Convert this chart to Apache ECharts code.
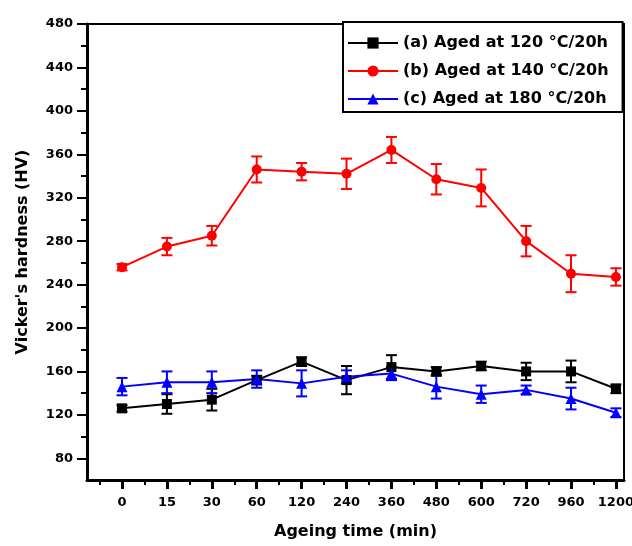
<!DOCTYPE html>
<html>
<head>
<meta charset="utf-8">
<script src="https://cdn.jsdelivr.net/npm/echarts@6/dist/echarts.min.js"></script>
<style>
  html, body { margin: 0; padding: 0; background: #fff; }
  #chart { width: 632px; height: 546px; }
</style>
</head>
<body>
<div id="chart"></div>
<script>
// ageing times (categories, evenly spaced on the plot)
const times = ['0', '15', '30', '60', '120', '240', '360', '480', '600', '720', '960', '1200']

// Vickers hardness (HV) with error (+/-)
const aged120 = [126, 130, 134, 152, 169, 152, 164, 160, 165, 160, 160, 144]
const err120 = [3, 9, 10, 4, 4, 13, 11, 4, 4, 8, 10, 4]
const aged140 = [256, 275, 285, 346, 344, 342, 364, 337, 329, 280, 250, 247]
const err140 = [3, 8, 9, 12, 8, 14, 12, 14, 17, 14, 17, 8]
const aged180 = [146, 150, 150, 153, 149, 155, 158, 146, 139, 143, 135, 122]
const err180 = [8, 10, 10, 8, 12, 6, 6, 11, 8, 4, 10, 4]

const yLabels = [80, 120, 160, 200, 240, 280, 320, 360, 400, 440, 480]
const yMinor = [100, 140, 180, 220, 260, 300, 340, 380, 420, 460]

const names = ['(a) Aged at 120 °C/20h', '(b) Aged at 140 °C/20h', '(c) Aged at 180 °C/20h']

const font = 'DejaVu Sans, Liberation Sans, sans-serif'
const majorX = times.map((t, i) => i)
const minorX = times.slice(0, -1).map((t, i) => i - 0.5).concat([10.5])

const pairs = vals => vals.map((v, i) => [i, v])
const errData = (vals, errs) => vals.map((v, i) => [i, v, errs[i]])

const errorBars = (name, color, vals, errs) => ({
  name: name,
  type: 'custom',
  data: errData(vals, errs),
  encode: { x: 0, y: 1 },
  z: 3,
  renderItem: (params, api) => {
    const x = api.value(0)
    const top = api.coord([x, api.value(1) + api.value(2)])
    const bot = api.coord([x, api.value(1) - api.value(2)])
    const w = 5.5
    const style = { stroke: color, lineWidth: 2 }
    return {
      type: 'group',
      children: [
        { type: 'line', shape: { x1: top[0], y1: top[1], x2: bot[0], y2: bot[1] }, style },
        { type: 'line', shape: { x1: top[0] - w, y1: top[1], x2: top[0] + w, y2: top[1] }, style },
        { type: 'line', shape: { x1: bot[0] - w, y1: bot[1], x2: bot[0] + w, y2: bot[1] }, style }
      ]
    }
  }
})

const lineSeries = (name, color, symbol, vals) => ({
  name: name,
  type: 'line',
  data: pairs(vals),
  symbol: symbol,
  symbolSize: symbol === 'triangle' ? 11 : 10,
  z: 4,
  lineStyle: { color: color, width: 2 },
  itemStyle: { color: color }
})

const chart = echarts.init(document.getElementById('chart'))

const option = {
  animation: false,
  backgroundColor: '#fff',
  textStyle: { fontFamily: font },
  grid: {
    left: 87, right: 8, top: 24, bottom: 66,
    outerBoundsMode: 'none',
    containLabel: false,
    show: true, borderColor: '#000', borderWidth: 2
  },
  legend: {
    data: names,
    orient: 'vertical',
    left: 343, top: 22,
    padding: [13, 14, 5, 4],
    itemWidth: 50, itemHeight: 14, itemGap: 12,
    backgroundColor: '#fff',
    borderColor: '#000', borderWidth: 2,
    textStyle: { fontFamily: font, fontSize: 16, fontWeight: 'bold', color: '#000' }
  },
  xAxis: [
    {
      type: 'value', min: -0.78, max: 11.18,
      name: 'Ageing time (min)', nameLocation: 'middle', nameGap: 44,
      nameTextStyle: { fontFamily: font, fontSize: 16, fontWeight: 'bold', color: '#000' },
      axisLine: { show: true, onZero: false, lineStyle: { color: '#000', width: 3 } },
      axisTick: { show: true, customValues: majorX, length: 9, lineStyle: { color: '#000', width: 3 } },
      axisLabel: {
        customValues: majorX, margin: 16,
        fontFamily: font, fontSize: 13, fontWeight: 'bold', color: '#000',
        formatter: v => times[Math.round(v)]
      },
      splitLine: { show: false }
    },
    {
      type: 'value', min: -0.78, max: 11.18, position: 'bottom',
      axisLine: { show: false, onZero: false },
      axisTick: { show: true, customValues: minorX, length: 5, lineStyle: { color: '#000', width: 2 } },
      axisLabel: { show: false },
      splitLine: { show: false }
    }
  ],
  yAxis: [
    {
      type: 'value', min: 60, max: 480,
      name: "Vicker's hardness (HV)", nameLocation: 'middle', nameGap: 56,
      nameTextStyle: { fontFamily: font, fontSize: 16, fontWeight: 'bold', color: '#000' },
      axisLine: { show: true, onZero: false, lineStyle: { color: '#000', width: 3 } },
      axisTick: { show: true, customValues: yLabels, length: 10, lineStyle: { color: '#000', width: 2 } },
      axisLabel: {
        customValues: yLabels, margin: 14,
        fontFamily: font, fontSize: 13, fontWeight: 'bold', color: '#000'
      },
      splitLine: { show: false }
    },
    {
      type: 'value', min: 60, max: 480, position: 'left',
      axisLine: { show: false, onZero: false },
      axisTick: { show: true, customValues: yMinor, length: 6, lineStyle: { color: '#000', width: 2 } },
      axisLabel: { show: false },
      splitLine: { show: false }
    }
  ],
  series: [
    errorBars('err-a', '#000', aged120, err120),
    errorBars('err-b', '#ff0000', aged140, err140),
    errorBars('err-c', '#0000ff', aged180, err180),
    lineSeries(names[0], '#000', 'rect', aged120),
    lineSeries(names[1], '#ff0000', 'circle', aged140),
    lineSeries(names[2], '#0000ff', 'triangle', aged180)
  ]
}

chart.setOption(option)
</script>
</body>
</html>
